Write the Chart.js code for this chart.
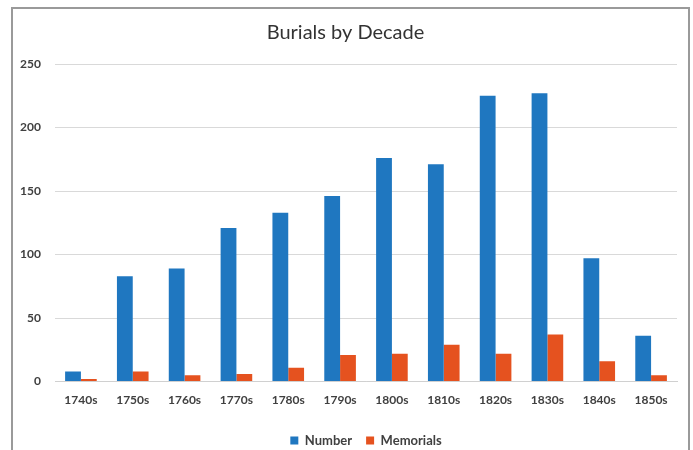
<!DOCTYPE html>
<html>
<head>
<meta charset="utf-8">
<script src="https://cdn.jsdelivr.net/npm/chart.js@4/dist/chart.umd.min.js"></script>
<style>
  html, body { margin: 0; padding: 0; background: #ffffff; overflow: hidden; }
  #frame {
    position: absolute; left: 11px; top: 7px;
    width: 675px; height: 470px;
    border: 2px solid #9a9a9a; background: #ffffff;
  }
  #wrap { position: absolute; left: 1px; top: 1px; width: 673px; height: 449px; }
</style>
</head>
<body>
<div id="frame"><div id="wrap"><canvas id="chart"></canvas></div></div>
<script>
// Burials per decade and the memorials surviving for each
const decades = ['1740s', '1750s', '1760s', '1770s', '1780s', '1790s', '1800s', '1810s', '1820s', '1830s', '1840s', '1850s'];
const numberValues = [8, 83, 89, 121, 133, 146, 176, 171, 225, 227, 97, 36];
const memorialValues = [2, 8, 5, 6, 11, 21, 22, 29, 22, 37, 16, 5];
const yTicks = [0, 50, 100, 150, 200, 250];

const textColor = '#404040';
const fontFamily = 'Lato, "Open Sans", sans-serif';

// Keep the legend centred under the plot area rather than the whole canvas
const centreLegend = {
  id: 'centreLegend',
  afterLayout(chart) {
    const lg = chart.legend;
    if (!lg) return;
    const shift = (chart.chartArea.left + chart.chartArea.right) / 2 - (lg.left + lg.right) / 2;
    lg.left += shift;
    lg.right += shift;
  }
};

new Chart(document.getElementById('chart'), {
  type: 'bar',
  data: {
    labels: decades,
    datasets: [
      { label: 'Number', data: numberValues, backgroundColor: '#1f77c0', borderWidth: 0 },
      { label: 'Memorials', data: memorialValues, backgroundColor: '#e5521f', borderWidth: 0 }
    ]
  },
  plugins: [centreLegend],
  options: {
    responsive: true,
    maintainAspectRatio: false,
    animation: false,
    layout: { padding: { left: 0, right: 10, top: 8, bottom: 2 } },
    datasets: { bar: { categoryPercentage: 0.61, barPercentage: 1.0 } },
    plugins: {
      title: {
        display: true,
        text: 'Burials by Decade',
        color: '#333333',
        font: { family: fontFamily, size: 20, weight: 'normal' },
        padding: { top: 3, bottom: 19 }
      },
      legend: {
        position: 'bottom',
        labels: {
          color: textColor,
          font: { family: fontFamily, size: 13, weight: 'bold' },
          boxWidth: 8, boxHeight: 8, padding: 14
        }
      },
      tooltip: { enabled: false }
    },
    scales: {
      x: {
        grid: { display: false, drawTicks: false },
        border: { display: true, color: '#d0d0d0', width: 1 },
        afterFit: (scale) => { scale.height += 2; },
        ticks: {
          color: textColor, padding: 11,
          font: { family: fontFamily, size: 12, weight: 'bold' },
          maxRotation: 0
        }
      },
      y: {
        min: 0, max: 250,
        afterBuildTicks: (scale) => { scale.ticks = yTicks.map(v => ({ value: v })); },
        afterFit: (scale) => { scale.width = 41; },
        grid: { color: '#d9d9d9', lineWidth: 1, drawTicks: false },
        border: { display: false },
        ticks: {
          color: textColor, padding: 14,
          font: { family: fontFamily, size: 12, weight: 'bold' }
        }
      }
    }
  }
});
</script>
</body>
</html>
